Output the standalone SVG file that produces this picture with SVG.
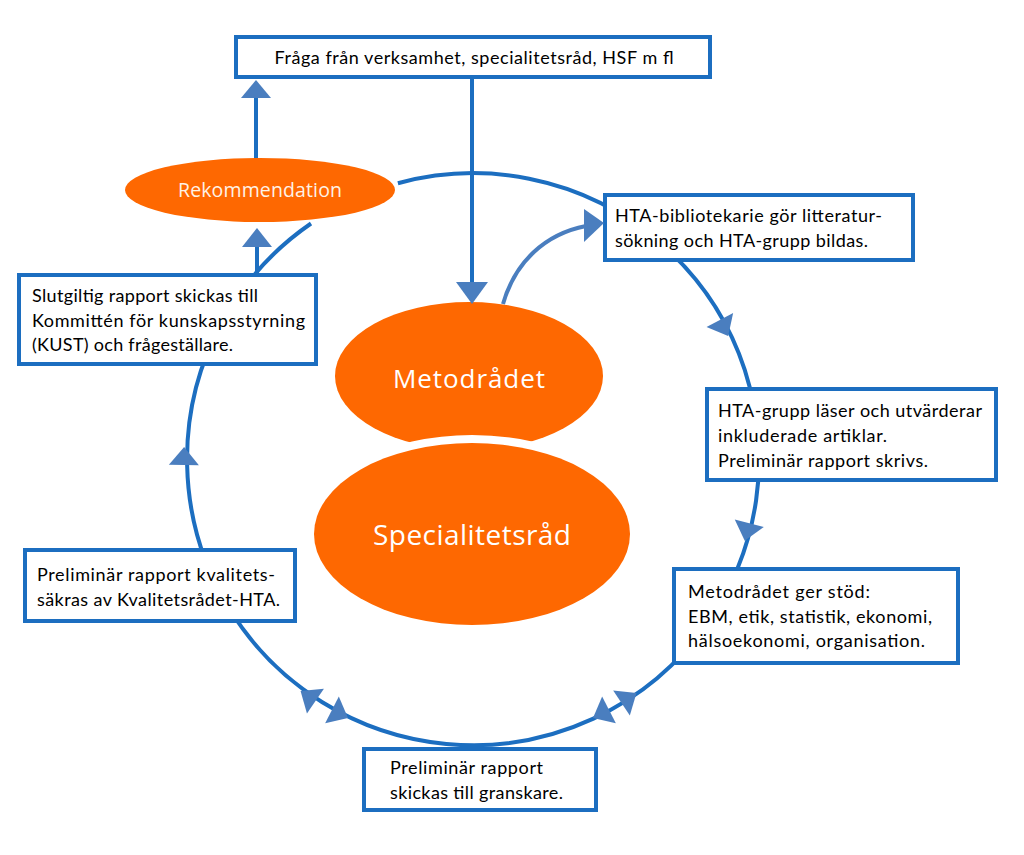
<svg xmlns="http://www.w3.org/2000/svg" width="1024" height="855" viewBox="0 0 1024 855">
<style>
.box{fill:#fff;stroke:#1c6ec0;stroke-width:4}
.ln{fill:none;stroke:#1c6ec0;stroke-width:4}
.ah{fill:#4a7ebf}
.t{font-family:Lato,"Liberation Sans",sans-serif;font-size:18px;fill:#000}
.org{fill:#fe6801}
.big{font-family:"Open Sans","DejaVu Sans",sans-serif;fill:#fff}
</style>
<defs>
<path id="tri" d="M9,0 L-9,-15 L-9,15 Z"/>
</defs>
<rect width="1024" height="855" fill="#fff"/>
<g id="connectors">
<path class="ln" d="M 397.9 183.2 A 286 286 0 1 1 311 223.5"/>
<line class="ln" x1="472" y1="79" x2="472" y2="284"/>
<line class="ln" x1="256" y1="160" x2="256" y2="96"/>
<line class="ln" x1="257" y1="274" x2="257" y2="246"/>
<path d="M 503 304 C 515 262, 545 234, 586 226" fill="none" stroke="#4a7ebf" stroke-width="4"/>
</g>
<g id="rekommendation">
<ellipse class="org" cx="260" cy="190" rx="135" ry="32"/>
<text x="260" y="197" text-anchor="middle" font-family="'Open Sans',sans-serif" font-size="19.5" fill="#fff2e6" textLength="164">Rekommendation</text>
</g>
<g id="metodradet">
<ellipse class="org" cx="469" cy="376" rx="134" ry="74"/>
<text class="big" x="469" y="388" text-anchor="middle" font-size="26" textLength="152">Metodrådet</text>
</g>
<g id="specialitetsrad">
<ellipse class="org" cx="472" cy="534" rx="158" ry="91" stroke="#fff" stroke-width="16"/>
<ellipse class="org" cx="472" cy="534" rx="158" ry="91"/>
<text class="big" x="472" y="545" text-anchor="middle" font-size="28" textLength="198">Specialitetsråd</text>
</g>
<g id="fraga">
<rect class="box" x="236" y="37" width="474" height="40"/>
<text class="t" x="474" y="64" text-anchor="middle" textLength="399">Fråga från verksamhet, specialitetsråd, HSF m fl</text>
</g>
<g id="hta-bibliotekarie">
<rect class="box" x="605" y="195" width="308" height="65"/>
<text class="t" x="615" y="222" textLength="267">HTA-bibliotekarie gör litteratur-</text>
<text class="t" x="615" y="247" textLength="253">sökning och HTA-grupp bildas.</text>
</g>
<g id="hta-grupp">
<rect class="box" x="707" y="389" width="289" height="91"/>
<text class="t" x="718" y="417" textLength="264">HTA-grupp läser och utvärderar</text>
<text class="t" x="718" y="442" textLength="169">inkluderade artiklar.</text>
<text class="t" x="718" y="467" textLength="210">Preliminär rapport skrivs.</text>
</g>
<g id="metodradet-stod">
<rect class="box" x="674" y="569" width="284" height="94"/>
<text class="t" x="688" y="598" textLength="182">Metodrådet ger stöd:</text>
<text class="t" x="688" y="623" textLength="244">EBM, etik, statistik, ekonomi,</text>
<text class="t" x="688" y="647" textLength="237">hälsoekonomi, organisation.</text>
</g>
<g id="granskare">
<rect class="box" x="364" y="749" width="232" height="61"/>
<text class="t" x="390" y="774" textLength="153">Preliminär rapport</text>
<text class="t" x="390" y="799" textLength="173">skickas till granskare.</text>
</g>
<g id="kvalitet">
<rect class="box" x="25" y="550" width="270" height="71"/>
<text class="t" x="37" y="581" textLength="238">Preliminär rapport kvalitets-</text>
<text class="t" x="37" y="606" textLength="243">säkras av Kvalitetsrådet-HTA.</text>
</g>
<g id="slutgiltig">
<rect class="box" x="19" y="275" width="297" height="89"/>
<text class="t" x="32" y="302" textLength="226">Slutgiltig rapport skickas till</text>
<text class="t" x="32" y="327" textLength="273">Kommittén för kunskapsstyrning</text>
<text class="t" x="32" y="351" textLength="201">(KUST) och frågeställare.</text>
</g>
<g id="arrowheads" class="ah">
<polygon points="456,282 488,282 472,304"/>
<polygon points="241,98 271,98 256,80"/>
<polygon points="242,247 272,247 257,228"/>
<polygon points="584,209 604,223 584,242"/>
<use href="#tri" transform="translate(724,328) rotate(62.5)"/>
<use href="#tri" transform="translate(747,532) rotate(104.6)"/>
<use href="#tri" transform="translate(629,698) rotate(-33.7)"/>
<use href="#tri" transform="translate(601,714) rotate(152.8)"/>
<use href="#tri" transform="translate(308,696) rotate(214.4)"/>
<use href="#tri" transform="translate(340,714) rotate(27.1)"/>
<use href="#tri" transform="translate(184,456) rotate(270.8)"/>
</g>
</svg>
